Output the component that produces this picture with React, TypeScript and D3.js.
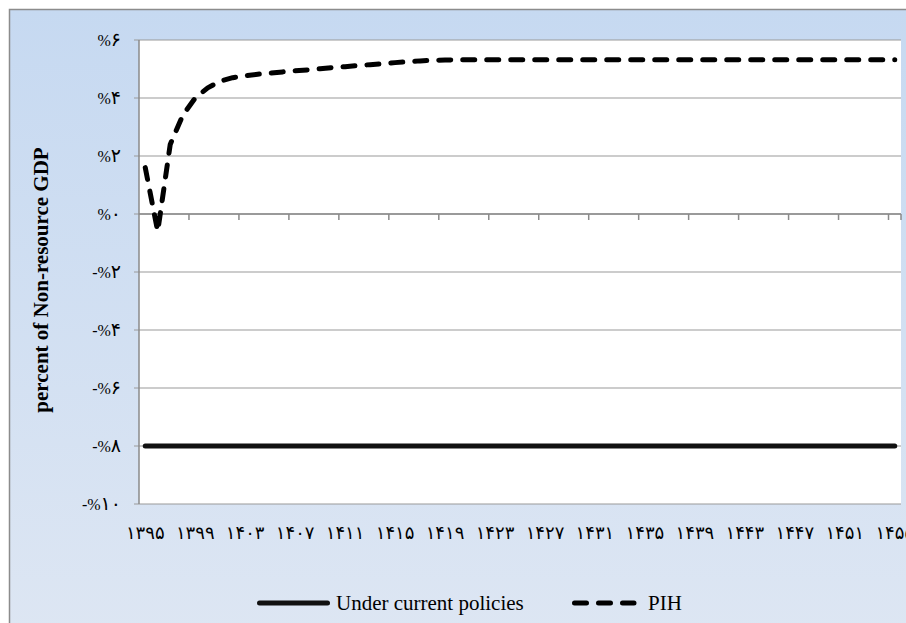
import React from 'react';
import * as d3 from 'd3';

// Years on the category axis (Solar Hijri), one per category
const years: number[] = d3.range(1395, 1456);

// Series values, percent of non-resource GDP
const currentPolicies: number[] = [
  -8, -8, -8, -8, -8, -8, -8, -8, -8, -8,
  -8, -8, -8, -8, -8, -8, -8, -8, -8, -8,
  -8, -8, -8, -8, -8, -8, -8, -8, -8, -8,
  -8, -8, -8, -8, -8, -8, -8, -8, -8, -8,
  -8, -8, -8, -8, -8, -8, -8, -8, -8, -8,
  -8, -8, -8, -8, -8, -8, -8, -8, -8, -8,
  -8,
];
const pih: number[] = [
  1.6, -0.6, 2.4, 3.4, 4.0, 4.35, 4.58, 4.7, 4.77, 4.82,
  4.86, 4.9, 4.94, 4.97, 5.01, 5.05, 5.08, 5.12, 5.15, 5.18,
  5.22, 5.25, 5.28, 5.3, 5.31, 5.32, 5.32, 5.32, 5.32, 5.32,
  5.32, 5.32, 5.32, 5.32, 5.32, 5.32, 5.32, 5.32, 5.32, 5.32,
  5.32, 5.32, 5.32, 5.32, 5.32, 5.32, 5.32, 5.32, 5.32, 5.32,
  5.32, 5.32, 5.32, 5.32, 5.32, 5.32, 5.32, 5.32, 5.32, 5.32,
  5.32,
];

const yTicks: number[] = [6, 4, 2, 0, -2, -4, -6, -8, -10];
const seriesNames = ['Under current policies', 'PIH'];
const yTitle = 'percent of Non-resource GDP';

const faDigits = '۰۱۲۳۴۵۶۷۸۹';
const toFa = (n: number) => String(n).replace(/\d/g, (d) => faDigits[+d]);

const W = 906;
const H = 623;
const plot = { left: 139, right: 901, top: 40, bottom: 504 };
const serif = '"Liberation Serif", "Times New Roman", "DejaVu Sans", serif';

export default function App() {
  const x = d3
    .scaleBand<number>()
    .domain(years)
    .range([plot.left, plot.right])
    .padding(0);
  const cx = (yr: number) => (x(yr) as number) + x.bandwidth() / 2;
  const y = d3.scaleLinear().domain([-10, 6]).range([plot.bottom, plot.top]);

  const line = d3
    .line<number>()
    .x((_, i) => cx(years[i]))
    .y((d) => y(d));

  const tickYears = years.filter((_, i) => i % 4 === 0);
  const y0 = y(0);

  return (
    <svg
      width={W}
      height={H}
      style={{ position: 'absolute', left: 0, top: 0, display: 'block' }}
    >
      <defs>
        <linearGradient id="bg" x1="0" y1="0" x2="0" y2="1">
          <stop offset="0%" stopColor="#c6d9f1" />
          <stop offset="100%" stopColor="#dde6f3" />
        </linearGradient>
      </defs>
      <rect x={9.5} y={9.5} width={W} height={H} fill="url(#bg)" stroke="#8c8c8c" strokeWidth={1.5} />
      <rect
        x={plot.left}
        y={plot.top}
        width={plot.right - plot.left}
        height={plot.bottom - plot.top}
        fill="#ffffff"
      />

      {/* gridlines + y ticks */}
      {yTicks.map((t) => (
        <g key={t}>
          <line x1={plot.left - 5} x2={plot.right} y1={y(t)} y2={y(t)} stroke="#9a9a9a" strokeWidth={1.2} />
          <text
            x={121}
            y={y(t)}
            dy="0.35em"
            textAnchor="end"
            fontFamily={serif}
            fontSize={16}
            fill="#000"
          >
            {t < 0 ? '-%' : '%'}
            <tspan fontSize={19}>{toFa(Math.abs(t))}</tspan>
          </text>
        </g>
      ))}
      <line x1={plot.left} x2={plot.left} y1={plot.top} y2={plot.bottom} stroke="#8a8a8a" strokeWidth={1.5} />

      {/* category axis at zero */}
      <line x1={plot.left} x2={plot.right} y1={y0} y2={y0} stroke="#8a8a8a" strokeWidth={1.5} />
      {tickYears.slice(1).map((yr) => (
        <line key={yr} x1={x(yr)} x2={x(yr)} y1={y0} y2={y0 + 6} stroke="#8a8a8a" strokeWidth={1.5} />
      ))}
      <line x1={plot.right} x2={plot.right} y1={y0} y2={y0 + 6} stroke="#8a8a8a" strokeWidth={1.5} />
      {tickYears.map((yr) => (
        <text
          key={yr}
          x={cx(yr)}
          y={533}
          dy="0.35em"
          textAnchor="middle"
          fontFamily={serif}
          fontSize={18}
          fill="#000"
        >
          {toFa(yr)}
        </text>
      ))}

      {/* series */}
      <path d={line(currentPolicies) as string} fill="none" stroke="#111" strokeWidth={5} strokeLinecap="round" />
      <path
        d={line(pih) as string}
        fill="none"
        stroke="#000"
        strokeWidth={5}
        strokeLinecap="round"
        strokeLinejoin="round"
        strokeDasharray="12 12"
      />

      {/* y title */}
      <text
        transform="translate(48, 280) rotate(-90)"
        textAnchor="middle"
        fontFamily={serif}
        fontSize={21}
        fontWeight="bold"
        fill="#000"
      >
        {yTitle}
      </text>

      {/* legend */}
      <line x1={259.5} x2={327.5} y1={603} y2={603} stroke="#111" strokeWidth={5} strokeLinecap="round" />
      <text x={336} y={603} dy="0.35em" fontFamily={serif} fontSize={21} fill="#000">
        {seriesNames[0]}
      </text>
      <line
        x1={574.5}
        x2={634}
        y1={603}
        y2={603}
        stroke="#000"
        strokeWidth={5}
        strokeLinecap="round"
        strokeDasharray="12 12"
      />
      <text x={648} y={603} dy="0.35em" fontFamily={serif} fontSize={21} fill="#000">
        {seriesNames[1]}
      </text>
    </svg>
  );
}
